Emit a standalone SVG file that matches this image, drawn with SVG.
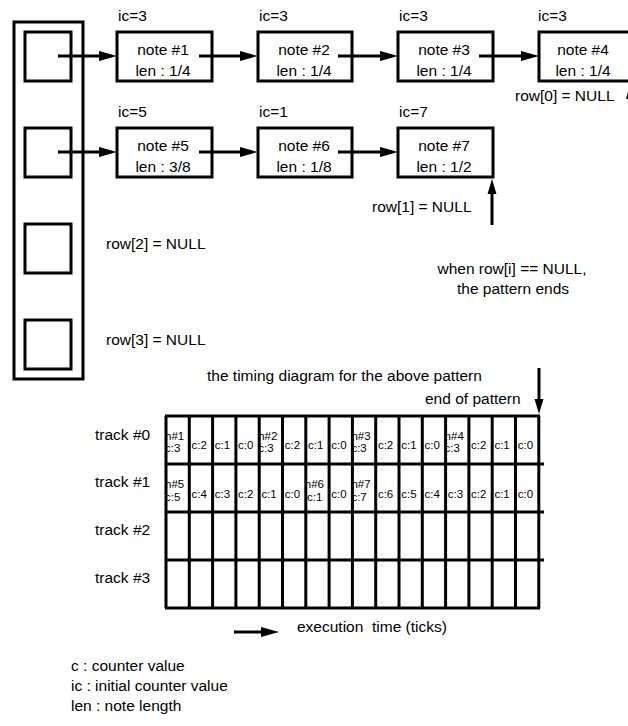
<svg xmlns="http://www.w3.org/2000/svg" width="628" height="726" viewBox="0 0 628 726">
<style>
text{font-family:"Liberation Sans",Arial,sans-serif;fill:#000}
.t{font-size:15.5px}
.m{font-size:15.5px;text-anchor:middle}
.s{font-size:11.5px}
.box{fill:#fff;stroke:#000;stroke-width:3}
.g{fill:none;stroke:#000;stroke-width:3}
.c{fill:none;stroke:#000;stroke-width:3}
</style>
<defs>
<marker id="ah" markerUnits="userSpaceOnUse" markerWidth="20" markerHeight="12" refX="0" refY="5" orient="auto" overflow="visible">
<path d="M0,0 L18,5 L0,10 z" fill="#000"/>
</marker>
<marker id="ahs" markerUnits="userSpaceOnUse" markerWidth="16" markerHeight="12" refX="0" refY="4.5" orient="auto" overflow="visible">
<path d="M0,0 L15,4.5 L0,9 z" fill="#000"/>
</marker>
</defs>
<rect width="628" height="726" fill="#fff"/>

<g id="row-array">
<rect class="box" x="14" y="22" width="69" height="357"/>
<rect class="box" x="25" y="32" width="46" height="49"/>
<rect class="box" x="25" y="128" width="46" height="49"/>
<rect class="box" x="25" y="224" width="46" height="49"/>
<rect class="box" x="25" y="320" width="46" height="49"/>
</g>

<g id="note1"><text class="t" x="118" y="21">ic=3</text><rect class="box" x="117" y="32" width="95" height="49"/><text class="m" x="163" y="55">note #1</text><text class="m" x="163" y="76">len : 1/4</text></g>
<g id="note2"><text class="t" x="259" y="21">ic=3</text><rect class="box" x="258" y="32" width="94" height="49"/><text class="m" x="304" y="55">note #2</text><text class="m" x="304" y="76">len : 1/4</text></g>
<g id="note3"><text class="t" x="399" y="21">ic=3</text><rect class="box" x="398" y="32" width="95" height="49"/><text class="m" x="444" y="55">note #3</text><text class="m" x="444" y="76">len : 1/4</text></g>
<g id="note4"><text class="t" x="538" y="21">ic=3</text><rect class="box" x="539" y="32" width="96" height="49"/><text class="m" x="583" y="55">note #4</text><text class="m" x="583" y="76">len : 1/4</text></g>
<g id="note5"><text class="t" x="118" y="117">ic=5</text><rect class="box" x="117" y="128" width="95" height="49"/><text class="m" x="163" y="151">note #5</text><text class="m" x="163" y="172">len : 3/8</text></g>
<g id="note6"><text class="t" x="259" y="117">ic=1</text><rect class="box" x="258" y="128" width="94" height="49"/><text class="m" x="304" y="151">note #6</text><text class="m" x="304" y="172">len : 1/8</text></g>
<g id="note7"><text class="t" x="399" y="117">ic=7</text><rect class="box" x="398" y="128" width="95" height="49"/><text class="m" x="444" y="151">note #7</text><text class="m" x="444" y="172">len : 1/2</text></g>

<g id="labels">
<text class="t" x="515" y="101">row[0] = NULL</text>
<text class="t" x="372" y="212">row[1] = NULL</text>
<text class="t" x="106" y="249">row[2] = NULL</text>
<text class="t" x="106" y="345">row[3] = NULL</text>
<text class="m" x="512" y="274">when row[i] == NULL,</text>
<text class="m" x="513" y="294">the pattern ends</text>
<text class="t" x="207" y="381">the timing diagram for the above pattern</text>
<text class="t" x="425" y="404">end of pattern</text>
<text class="t" x="297" y="632" style="white-space:pre">execution  time (ticks)</text>
<text class="t" x="71" y="671">c : counter value</text>
<text class="t" x="71" y="691">ic : initial counter value</text>
<text class="t" x="71" y="711">len : note length</text>
</g>

<g id="connectors">
<path class="c" d="M58,56 H99" marker-end="url(#ah)"/>
<path class="c" d="M199,56 H240" marker-end="url(#ah)"/>
<path class="c" d="M338,56 H380" marker-end="url(#ah)"/>
<path class="c" d="M479,56 H521" marker-end="url(#ah)"/>
<path class="c" d="M58,152 H99" marker-end="url(#ah)"/>
<path class="c" d="M199,152 H240" marker-end="url(#ah)"/>
<path class="c" d="M338,152 H380" marker-end="url(#ah)"/>
<path class="c" d="M492,225 V194" marker-end="url(#ahs)"/>
<path class="c" d="M631,125 V99" marker-end="url(#ah)"/>
<path class="c" d="M539,368 V399" marker-end="url(#ahs)"/>
<path class="c" d="M234,632 H261" marker-end="url(#ah)"/>
</g>

<g id="timing-grid">
<text class="t" x="95" y="440">track #0</text>
<text class="t" x="95" y="487">track #1</text>
<text class="t" x="95" y="535">track #2</text>
<text class="t" x="95" y="583">track #3</text>
<path class="g" d="M165,416 H540 M165,464 H544 M165,512 H544 M165,560 H544 M165,608 H540"/>
<path class="g" d="M166,416 V608 M189.3,416 V608 M212.6,416 V608 M235.9,416 V608 M259.2,416 V608 M282.5,416 V608 M305.8,416 V608 M329.1,416 V608 M352.4,416 V608 M375.7,416 V608 M399,416 V608 M422.3,416 V608 M445.6,416 V608 M468.9,416 V608 M492.2,416 V608 M515.5,416 V608 M538.8,416 V608"/>
<g class="cells0">
<text class="s" x="165" y="440">n#1</text><text class="s" x="165" y="452">c:3</text>
<text class="s" x="191.5" y="449">c:2</text>
<text class="s" x="214.8" y="449">c:1</text>
<text class="s" x="238.1" y="449">c:0</text>
<text class="s" x="258.2" y="440">n#2</text><text class="s" x="258.2" y="452">c:3</text>
<text class="s" x="284.7" y="449">c:2</text>
<text class="s" x="308" y="449">c:1</text>
<text class="s" x="331.3" y="449">c:0</text>
<text class="s" x="351.4" y="440">n#3</text><text class="s" x="351.4" y="452">c:3</text>
<text class="s" x="377.9" y="449">c:2</text>
<text class="s" x="401.2" y="449">c:1</text>
<text class="s" x="424.5" y="449">c:0</text>
<text class="s" x="444.6" y="440">n#4</text><text class="s" x="444.6" y="452">c:3</text>
<text class="s" x="471.1" y="449">c:2</text>
<text class="s" x="494.4" y="449">c:1</text>
<text class="s" x="517.7" y="449">c:0</text>
</g>
<g class="cells1">
<text class="s" x="165" y="488">n#5</text><text class="s" x="165" y="501">c:5</text>
<text class="s" x="191.5" y="498">c:4</text>
<text class="s" x="214.8" y="498">c:3</text>
<text class="s" x="238.1" y="498">c:2</text>
<text class="s" x="261.4" y="498">c:1</text>
<text class="s" x="284.7" y="498">c:0</text>
<text class="s" x="304.8" y="488">n#6</text><text class="s" x="307" y="501">c:1</text>
<text class="s" x="331.3" y="498">c:0</text>
<text class="s" x="351.4" y="488">n#7</text><text class="s" x="351.4" y="501">c:7</text>
<text class="s" x="377.9" y="498">c:6</text>
<text class="s" x="401.2" y="498">c:5</text>
<text class="s" x="424.5" y="498">c:4</text>
<text class="s" x="447.8" y="498">c:3</text>
<text class="s" x="471.1" y="498">c:2</text>
<text class="s" x="494.4" y="498">c:1</text>
<text class="s" x="517.7" y="498">c:0</text>
</g>
</g>
</svg>
